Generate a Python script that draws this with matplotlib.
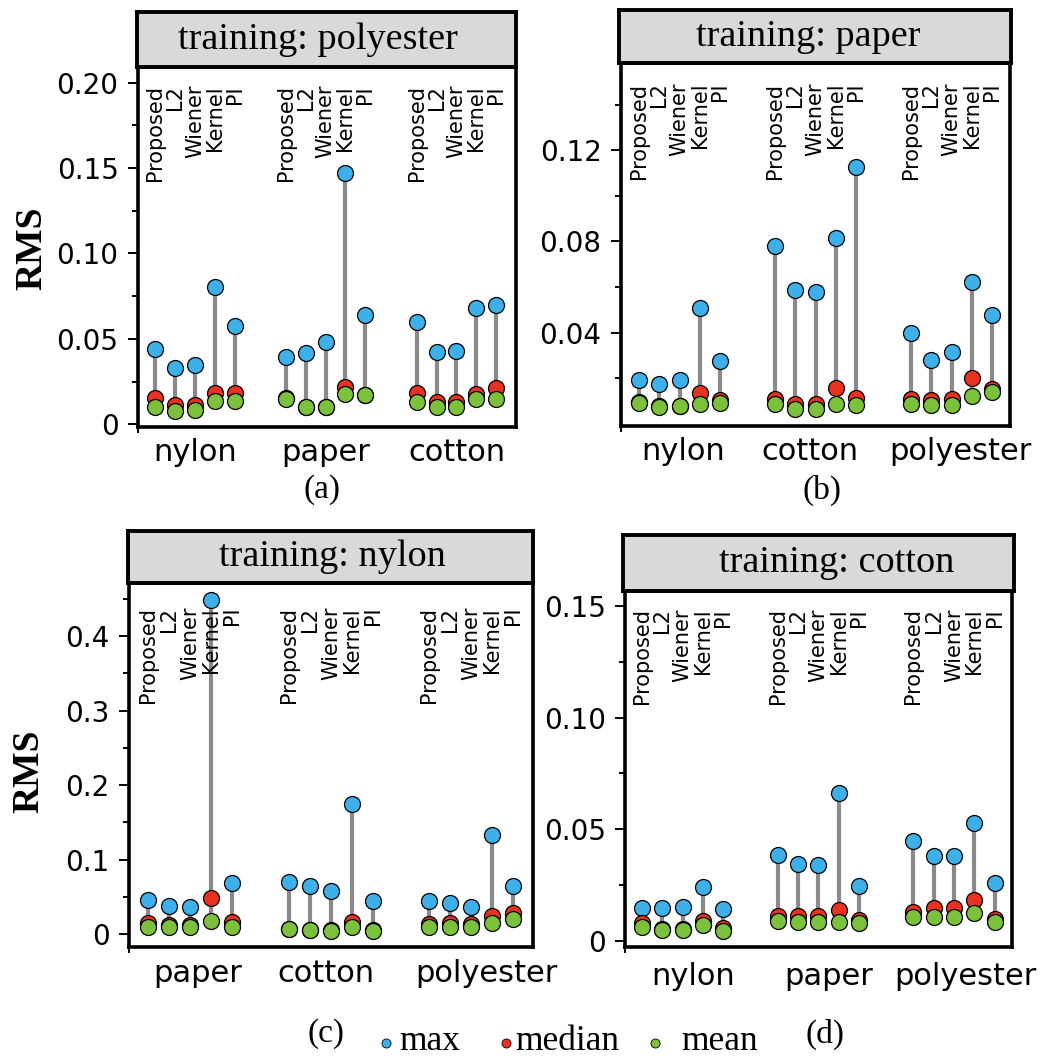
import numpy as np
import matplotlib.pyplot as plt
from matplotlib.transforms import offset_copy

W, H = 1057, 1059
plt.rcParams['font.family'] = 'DejaVu Sans'
SERIF = 'Liberation Serif'

methods = ["Proposed", "L2", "Wiener", "Kernel", "PI"]

# (a) training: polyester
a_groups = ["nylon", "paper", "cotton"]
a_max = [[0.0443, 0.0329, 0.0345, 0.0804, 0.0573],
         [0.0396, 0.0418, 0.0484, 0.1473, 0.0639],
         [0.0598, 0.0424, 0.0431, 0.0678, 0.0696]]
a_median = [[0.0153, 0.0110, 0.0114, 0.0182, 0.0182],
            [0.0155, 0.0102, 0.0104, 0.0216, 0.0170],
            [0.0182, 0.0129, 0.0133, 0.0176, 0.0212]]
a_mean = [[0.0104, 0.0080, 0.0084, 0.0137, 0.0137],
          [0.0147, 0.0100, 0.0100, 0.0176, 0.0169],
          [0.0129, 0.0100, 0.0100, 0.0149, 0.0149]]

# (b) training: paper
b_groups = ["nylon", "cotton", "polyester"]
b_max = [[0.0195, 0.0177, 0.0195, 0.0507, 0.0277],
         [0.0782, 0.0587, 0.0579, 0.0816, 0.1127],
         [0.0400, 0.0280, 0.0314, 0.0621, 0.0476]]
b_median = [[0.0095, 0.0078, 0.0080, 0.0136, 0.0104],
            [0.0111, 0.0089, 0.0089, 0.0160, 0.0116],
            [0.0111, 0.0104, 0.0111, 0.0202, 0.0155]]
b_mean = [[0.0092, 0.0075, 0.0078, 0.0089, 0.0094],
          [0.0089, 0.0067, 0.0067, 0.0086, 0.0082],
          [0.0086, 0.0082, 0.0082, 0.0123, 0.0141]]

# (c) training: nylon
c_groups = ["paper", "cotton", "polyester"]
c_max = [[0.0462, 0.0381, 0.0363, 0.4475, 0.0686],
         [0.0700, 0.0641, 0.0587, 0.1753, 0.0453],
         [0.0448, 0.0426, 0.0372, 0.1336, 0.0641]]
c_median = [[0.0148, 0.0126, 0.0126, 0.0493, 0.0161],
            [0.0075, 0.0060, 0.0052, 0.0170, 0.0052],
            [0.0135, 0.0148, 0.0140, 0.0247, 0.0282]]
c_mean = [[0.0094, 0.0094, 0.0094, 0.0179, 0.0103],
          [0.0072, 0.0058, 0.0049, 0.0103, 0.0049],
          [0.0103, 0.0103, 0.0103, 0.0157, 0.0206]]

# (d) training: cotton
d_groups = ["nylon", "paper", "polyester"]
d_max = [[0.0149, 0.0146, 0.0151, 0.0243, 0.0143],
         [0.0385, 0.0343, 0.0340, 0.0664, 0.0248],
         [0.0449, 0.0382, 0.0382, 0.0530, 0.0258]]
d_median = [[0.0079, 0.0055, 0.0055, 0.0087, 0.0057],
            [0.0113, 0.0112, 0.0112, 0.0139, 0.0094],
            [0.0131, 0.0146, 0.0146, 0.0184, 0.0099]]
d_mean = [[0.0064, 0.0049, 0.0049, 0.0069, 0.0046],
          [0.0087, 0.0084, 0.0084, 0.0084, 0.0079],
          [0.0105, 0.0106, 0.0109, 0.0127, 0.0084]]

BLUE, RED, GREEN, GREY = '#3eb0e9', '#e8321f', '#7cc13c', '#8a8a8a'


def px_rect(x0, y0, x1, y1):
    return [x0 / W, 1 - y1 / H, (x1 - x0) / W, (y1 - y0) / H]


# layout of each panel, in pixels of the 1057x1059 picture
panels = [
    dict(title="training: polyester", groups=a_groups, mx=a_max, md=a_median, mn=a_mean,
         ax=(138, 67, 515.5, 427), strip=(137, 12, 516, 67), tx=0.478,
         gap=6.6, pad=(0.87, 0.98), ylim=(-0.0016, 0.2092),
         major=[0, 0.05, 0.10, 0.15, 0.20], labels=["0", "0.05", "0.10", "0.15", "0.20"],
         minor=[0.025, 0.075, 0.125, 0.175], ltop=0.95, gdx=[0, 0, 0], gbase=34),
    dict(title="training: paper", groups=b_groups, mx=b_max, md=b_median, mn=b_mean,
         ax=(621, 63, 1010, 425.7), strip=(619.3, 10, 1010.7, 63), tx=0.483,
         gap=6.7, pad=(0.89, 0.87), ylim=(-0.0007, 0.1582),
         major=[0.04, 0.08, 0.12], labels=["0.04", "0.08", "0.12"],
         minor=[0.02, 0.06, 0.10, 0.14], ltop=0.946, gdx=[3, -6, 9], gbase=34),
    dict(title="training: nylon", groups=c_groups, mx=c_max, md=c_median, mn=c_mean,
         ax=(129.3, 583.3, 533, 946.7), strip=(127.7, 530.7, 533, 583.3), tx=0.505,
         gap=6.68, pad=(0.9, 0.93), ylim=(-0.0166, 0.4705),
         major=[0, 0.1, 0.2, 0.3, 0.4], labels=["0", "0.1", "0.2", "0.3", "0.4"],
         minor=[0.05, 0.15, 0.25, 0.35, 0.45], ltop=0.935, gdx=[7, -5, 15], gbase=35),
    dict(title="training: cotton", groups=d_groups, mx=d_max, md=d_median, mn=d_mean,
         ax=(625.3, 591, 1012, 946.7), strip=(622.7, 535, 1013.7, 591), tx=0.548,
         gap=6.67, pad=(0.82, 0.85), ylim=(-0.0026, 0.1567),
         major=[0, 0.05, 0.10, 0.15], labels=["0", "0.05", "0.10", "0.15"],
         minor=[0.025, 0.075, 0.125], ltop=0.952, gdx=[10, 10, 11], gbase=38),
]

fig = plt.figure(figsize=(W / 100, H / 100), dpi=100)

for p in panels:
    ax = fig.add_axes(px_rect(*p["ax"]))
    gap = p["gap"]
    xt = ax.get_xaxis_transform()
    for g in range(3):
        x = g * gap + np.arange(len(methods))
        ax.vlines(x, p["mn"][g], p["mx"][g], color=GREY, lw=3, zorder=2)
        ax.plot(x, p["mx"][g], 'o', ms=11.5, mfc=BLUE, mec='k', mew=0.9, zorder=4)
        ax.plot(x, p["md"][g], 'o', ms=11.5, mfc=RED, mec='k', mew=0.9, zorder=5)
        ax.plot(x, p["mn"][g], 'o', ms=11.5, mfc=GREEN, mec='k', mew=0.9, zorder=6)
        for m, name in enumerate(methods):
            ax.text(x[m], p["ltop"], name, transform=xt, rotation=90,
                    ha='center', va='top', fontsize=15, zorder=3)
        tr = offset_copy(xt, fig=fig, x=p["gdx"][g], y=-p["gbase"], units='dots')
        ax.text(g * gap + 2, 0, p["groups"][g], transform=tr, ha='center',
                va='baseline', fontsize=22)

    x_lo = -p["pad"][0]
    ax.set_xlim(x_lo, 2 * gap + 4 + p["pad"][1])
    ax.set_ylim(*p["ylim"])
    ax.set_yticks(p["major"])
    ax.set_yticklabels(p["labels"])
    ax.set_yticks(p["minor"], minor=True)
    ax.set_xticks([x_lo])
    ax.set_xticklabels([""])
    ax.tick_params(axis='y', which='major', length=7, width=1.4, pad=7, labelsize=20)
    ax.tick_params(axis='y', which='minor', length=4.5, width=1.4)
    ax.tick_params(axis='x', length=4, width=1.4)
    for s in ax.spines.values():
        s.set_linewidth(2.6)

    sax = fig.add_axes(px_rect(*p["strip"]))
    sax.set_facecolor('#d9d9d9')
    sax.set_xticks([])
    sax.set_yticks([])
    for s in sax.spines.values():
        s.set_linewidth(2.8)
    sax.text(p["tx"], 0.5, p["title"], transform=sax.transAxes, ha='center',
             va='center', fontsize=27.5, family=SERIF)

# y-axis titles
fig.text(31.5 / W, 1 - 248.5 / H, "RMS", rotation=90, ha='center', va='center',
         fontsize=27, fontweight='bold', family=SERIF)
fig.text(29 / W, 1 - 771 / H, "RMS", rotation=90, ha='center', va='center',
         fontsize=27, fontweight='bold', family=SERIF)

# panel letters
for lab, cx, cy in [("(a)", 321.7, 490), ("(b)", 822, 490), ("(c)", 326, 1034), ("(d)", 825, 1034)]:
    fig.text(cx / W, 1 - cy / H, lab, ha='center', va='center', fontsize=24, family=SERIF)

# legend along the bottom
lax = fig.add_axes([0, 0, 1, 1])
lax.set_xlim(0, W)
lax.set_ylim(H, 0)
lax.axis('off')
for lab, col, dx, tx in [("max", BLUE, 386.4, 399), ("median", RED, 506, 515.6), ("mean", GREEN, 654.8, 680.8)]:
    lax.plot([dx], [1043], 'o', ms=6.5, mfc=col, mec='k', mew=0.6)
    lax.text(tx, 1050, lab, ha='left', va='baseline', fontsize=25.5, family=SERIF)

fig.savefig("out.png", dpi=100)
